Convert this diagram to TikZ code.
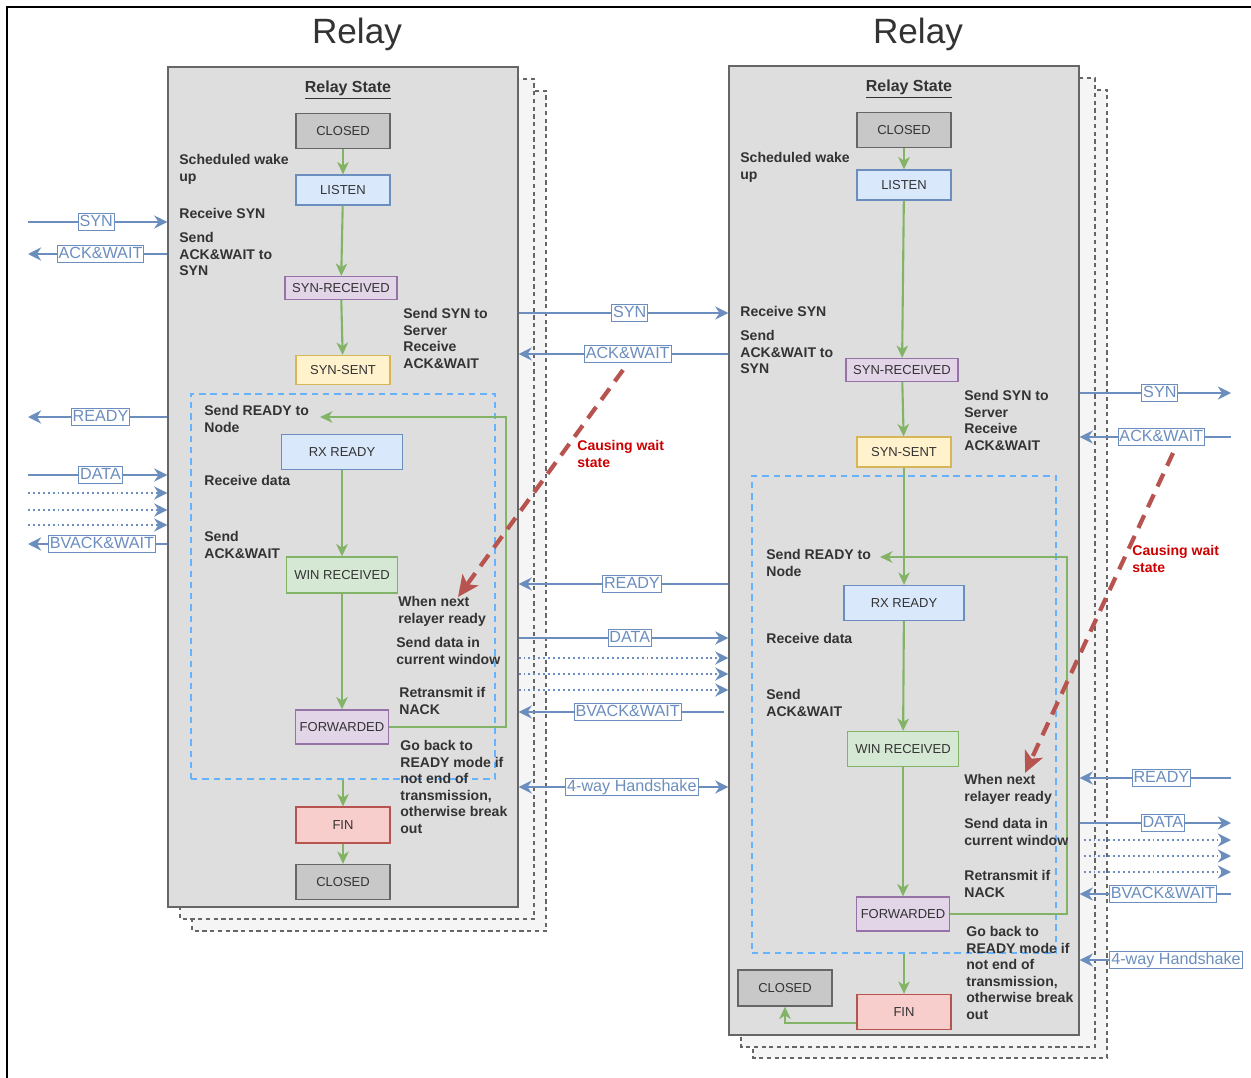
\documentclass[tikz,border=0pt]{standalone}
\usepackage{fontspec}
\setmainfont{Liberation Sans}
\usetikzlibrary{arrows.meta}

\definecolor{bluestroke}{HTML}{6C8EBF}
\definecolor{bluefill}{HTML}{DAE8FC}
\definecolor{greenstroke}{HTML}{82B366}
\definecolor{greenfill}{HTML}{D5E8D4}
\definecolor{purplestroke}{HTML}{9673A6}
\definecolor{purplefill}{HTML}{E1D5E7}
\definecolor{yellowstroke}{HTML}{D6B656}
\definecolor{yellowfill}{HTML}{FFF2CC}
\definecolor{redstroke}{HTML}{B85450}
\definecolor{redfill}{HTML}{F8CECC}
\definecolor{grayfill}{HTML}{C8C8C8}
\definecolor{panel}{HTML}{DEDEDE}
\definecolor{panelback}{HTML}{F5F5F5}
\definecolor{edge}{HTML}{666666}
\definecolor{ink}{HTML}{333333}
\definecolor{dashblue}{HTML}{66B2FF}
\definecolor{warn}{HTML}{CC0000}

\tikzset{
  st/.style 2 args={draw=#1, fill=#2, line width=0.75pt, inner sep=0pt, text=ink,
    font=\fontsize{7.4}{9}\selectfont},
  panelbox/.style={draw=edge, fill=panel, line width=0.75pt, inner sep=0pt,
    minimum width=7cm},
  backbox/.style={draw=edge, fill=panelback, line width=0.6pt, dash pattern=on 2.4pt off 2pt},
  loopbox/.style={draw=dashblue, line width=1.2pt, dash pattern=on 3.6pt off 2.8pt,
    inner sep=0pt},
  note/.style={anchor=north west, align=left, inner sep=0pt, text=ink,
    font=\bfseries\fontsize{8}{9.4}\selectfont},
  warnnote/.style={note, text=warn},
  title/.style={text=ink, font=\fontsize{20}{24}\selectfont, inner sep=0pt},
  statehead/.style={text=ink, font=\bfseries\fontsize{9.1}{11}\selectfont, inner sep=0pt},
  lbl/.style={draw=bluestroke, fill=white, text=bluestroke, line width=0.5pt,
    inner xsep=0.8pt, inner ysep=0.6pt, text height=7pt, text depth=1.9pt,
    font=\fontsize{9.2}{11}\selectfont},
  flow/.style={draw=bluestroke, line width=1.2pt,
    -{Stealth[length=7.5pt,width=7.5pt,inset=2.4pt]}},
  dots/.style={flow, dash pattern=on 1.1pt off 1.7pt},
  both/.style={draw=bluestroke, line width=1.2pt,
    {Stealth[length=7.5pt,width=7.5pt,inset=2.4pt]}-{Stealth[length=7.5pt,width=7.5pt,inset=2.4pt]}},
  trans/.style={draw=greenstroke, line width=1.2pt,
    -{Stealth[length=7pt,width=6.5pt,inset=2pt]}},
  waitline/.style={draw=redstroke, line width=2.4pt, dash pattern=on 8pt off 5pt,
    -{Stealth[length=12pt,width=11pt,inset=3pt]}}
}

\begin{document}
\begin{tikzpicture}[x=0.02cm, y=-0.02cm]
\useasboundingbox (0,0) rectangle (1251,1078);

% outer frame
\draw[line width=0.8pt] (7,1078) -- (7,7) -- (1251,7);

% ---------------- left relay ----------------
\node[title] (T1) at (357,34) {Relay};
\draw[backbox] (192,91) rectangle (546,931);
\draw[backbox] (180,79) rectangle (534,919);
\node[panelbox, minimum height=16.8cm] (R1) at (343,487) {};
\node[statehead] (H1) at (348,90) {\underline{Relay State}};

\node[st={edge}{grayfill}, minimum width=1.88cm, minimum height=0.70cm] (C1) at (343,131) {CLOSED};
\node[st={bluestroke}{bluefill}, minimum width=1.88cm, minimum height=0.60cm] (L1) at (343,190) {LISTEN};
\node[st={purplestroke}{purplefill}, minimum width=2.24cm, minimum height=0.46cm] (SR1) at (341,288) {SYN-RECEIVED};
\node[st={yellowstroke}{yellowfill}, minimum width=1.88cm, minimum height=0.58cm] (SS1) at (343,370) {SYN-SENT};
\node[loopbox, minimum width=6.08cm, minimum height=7.70cm] (LP1) at (343,586.5) {};
\node[st={bluestroke}{bluefill}, minimum width=2.42cm, minimum height=0.70cm] (RX1) at (342,452) {RX READY};
\node[st={greenstroke}{greenfill}, minimum width=2.22cm, minimum height=0.72cm] (W1) at (342,575) {WIN RECEIVED};
\node[st={purplestroke}{purplefill}, minimum width=1.86cm, minimum height=0.68cm] (F1) at (342,727) {FORWARDED};
\node[st={redstroke}{redfill}, minimum width=1.88cm, minimum height=0.72cm] (FIN1) at (343,825) {FIN};
\node[st={edge}{grayfill}, minimum width=1.88cm, minimum height=0.70cm] (CE1) at (343,882) {CLOSED};

\draw[trans] (C1) -- (L1);
\draw[trans] (L1) -- (SR1);
\draw[trans] (SR1) -- (SS1);
\draw[trans] (RX1) -- (W1);
\draw[trans] (W1) -- (F1);
\coordinate (turn1) at (506,417);
\coordinate (back1) at (320,417);
\draw[trans] (F1.east) -| (turn1) -- (back1);
\draw[trans] (FIN1.north |- LP1.south) -- (FIN1.north);
\draw[trans] (FIN1) -- (CE1);

\node[note] (n1a) at (179,154) {Scheduled wake\\up};
\node[note] (n1b) at (179,208) {Receive SYN};
\node[note] (n1c) at (179,232) {Send\\ACK\&WAIT to\\SYN};
\node[note] (n1d) at (403,308) {Send SYN to\\Server\\Receive\\ACK\&WAIT};
\node[note] (n1e) at (204,405) {Send READY to\\Node};
\node[note] (n1f) at (204,475) {Receive data};
\node[note] (n1g) at (204,531) {Send\\ACK\&WAIT};
\node[note] (n1h) at (398,596) {When next\\relayer ready};
\node[note] (n1i) at (396,637) {Send data in\\current window};
\node[note] (n1j) at (399,687) {Retransmit if\\NACK};
\node[note] (n1k) at (400,740) {Go back to\\READY mode if\\not end of\\transmission,\\otherwise break\\out};

% ---------------- right relay ----------------
\node[title] (T2) at (918,34) {Relay};
\draw[backbox] (753,90) rectangle (1107,1058);
\draw[backbox] (741,78) rectangle (1095,1047);
\node[panelbox, minimum height=19.38cm] (R2) at (904,550.5) {};
\node[statehead] (H2) at (909,89) {\underline{Relay State}};

\node[st={edge}{grayfill}, minimum width=1.88cm, minimum height=0.70cm] (C2) at (904,130) {CLOSED};
\node[st={bluestroke}{bluefill}, minimum width=1.88cm, minimum height=0.60cm] (L2) at (904,185) {LISTEN};
\node[st={purplestroke}{purplefill}, minimum width=2.24cm, minimum height=0.46cm] (SR2) at (902,370) {SYN-RECEIVED};
\node[st={yellowstroke}{yellowfill}, minimum width=1.88cm, minimum height=0.60cm] (SS2) at (904,452) {SYN-SENT};
\node[loopbox, minimum width=6.08cm, minimum height=9.54cm] (LP2) at (904,714.5) {};
\node[st={bluestroke}{bluefill}, minimum width=2.40cm, minimum height=0.70cm] (RX2) at (904,603) {RX READY};
\node[st={greenstroke}{greenfill}, minimum width=2.22cm, minimum height=0.70cm] (W2) at (903,749) {WIN RECEIVED};
\node[st={purplestroke}{purplefill}, minimum width=1.86cm, minimum height=0.68cm] (F2) at (903,914) {FORWARDED};
\node[st={redstroke}{redfill}, minimum width=1.88cm, minimum height=0.70cm] (FIN2) at (904,1012) {FIN};
\node[st={edge}{grayfill}, minimum width=1.88cm, minimum height=0.72cm] (CE2) at (785,988) {CLOSED};

\draw[trans] (C2) -- (L2);
\draw[trans] (L2) -- (SR2);
\draw[trans] (SR2) -- (SS2);
\draw[trans] (SS2) -- (RX2);
\draw[trans] (RX2) -- (W2);
\draw[trans] (W2) -- (F2);
\coordinate (turn2) at (1067,557);
\coordinate (back2) at (880,557);
\draw[trans] (F2.east) -| (turn2) -- (back2);
\draw[trans] (FIN2.north |- LP2.south) -- (FIN2.north);
\draw[trans] ([yshift=-6.3pt]FIN2.west) -| (CE2.south);

\node[note] (n2a) at (740,152) {Scheduled wake\\up};
\node[note] (n2b) at (740,306) {Receive SYN};
\node[note] (n2c) at (740,330) {Send\\ACK\&WAIT to\\SYN};
\node[note] (n2d) at (964,390) {Send SYN to\\Server\\Receive\\ACK\&WAIT};
\node[note] (n2e) at (766,549) {Send READY to\\Node};
\node[note] (n2f) at (766,633) {Receive data};
\node[note] (n2g) at (766,689) {Send\\ACK\&WAIT};
\node[note] (n2h) at (964,774) {When next\\relayer ready};
\node[note] (n2i) at (964,818) {Send data in\\current window};
\node[note] (n2j) at (964,870) {Retransmit if\\NACK};
\node[note] (n2k) at (966,926) {Go back to\\READY mode if\\not end of\\transmission,\\otherwise break\\out};

% ---------------- messages to the left of the first relay ----------------
\coordinate (a1) at (28,222);
\coordinate (a2) at (28,254);
\coordinate (a3) at (28,417);
\coordinate (a4) at (28,475);
\coordinate (a5) at (28,493);
\coordinate (a6) at (28,510);
\coordinate (a7) at (28,525);
\coordinate (a8) at (28,544);
\draw[flow] (a1) -- node[lbl, pos=0.49] {SYN} (a1 -| R1.west);
\draw[flow] (a2 -| R1.west) -- node[lbl, pos=0.48] {ACK\&WAIT} (a2);
\draw[flow] (a3 -| R1.west) -- node[lbl, pos=0.48] {READY} (a3);
\draw[flow] (a4) -- node[lbl, pos=0.52] {DATA} (a4 -| R1.west);
\draw[dots] (a5) -- (a5 -| R1.west);
\draw[dots] (a6) -- (a6 -| R1.west);
\draw[dots] (a7) -- (a7 -| R1.west);
\draw[flow] (a8 -| R1.west) -- node[lbl, pos=0.47] {BVACK\&WAIT} (a8);

% ---------------- messages between the relays ----------------
\coordinate (m1) at (620,313);
\coordinate (m2) at (620,354);
\coordinate (m3) at (620,584);
\coordinate (m4) at (620,638);
\coordinate (m5) at (620,658);
\coordinate (m6) at (620,674);
\coordinate (m7) at (620,690);
\coordinate (m8) at (620,712);
\coordinate (m9) at (620,787);
\draw[flow] (m1 -| R1.east) -- node[lbl, pos=0.53] {SYN} (m1 -| R2.west);
\draw[flow] (m2 -| R2.west) -- node[lbl, pos=0.48] (mack) {ACK\&WAIT} (m2 -| R1.east);
\draw[flow] (m3 -| R2.west) -- node[lbl, pos=0.46] {READY} (m3 -| R1.east);
\draw[flow] (m4 -| R1.east) -- node[lbl, pos=0.53] {DATA} (m4 -| R2.west);
\draw[dots] (m5 -| R1.east) -- (m5 -| R2.west);
\draw[dots] (m6 -| R1.east) -- (m6 -| R2.west);
\draw[dots] (m7 -| R1.east) -- (m7 -| R2.west);
\draw[flow] ([xshift=-2.3pt]m8 -| R2.west) -- node[lbl, pos=0.47] {BVACK\&WAIT} (m8 -| R1.east);
\draw[both] (m9 -| R1.east) -- node[lbl, pos=0.54] {4-way Handshake} (m9 -| R2.west);

% ---------------- messages to the right of the second relay ----------------
\coordinate (b1) at (1231,393);
\coordinate (b2) at (1231,437);
\coordinate (b3) at (1231,778);
\coordinate (b4) at (1231,823);
\coordinate (b5) at (1231,840);
\coordinate (b6) at (1231,856);
\coordinate (b7) at (1231,872);
\coordinate (b8) at (1231,894);
\draw[flow] (b1 -| R2.east) -- node[lbl, pos=0.53] {SYN} (b1);
\draw[flow] (b2) -- node[lbl, pos=0.46] {ACK\&WAIT} (b2 -| R2.east);
\draw[flow] (b3) -- node[lbl, pos=0.46] {READY} (b3 -| R2.east);
\draw[flow] (b4 -| R2.east) -- node[lbl, pos=0.55] {DATA} (b4);
\draw[dots] ([xshift=2.3pt]b5 -| R2.east) -- (b5);
\draw[dots] ([xshift=2.3pt]b6 -| R2.east) -- (b6);
\draw[dots] ([xshift=2.3pt]b7 -| R2.east) -- (b7);
\draw[flow] (b8) -- node[lbl, pos=0.45] {BVACK\&WAIT} (b8 -| R2.east);
\node[lbl] (hs2) at (1176,960) {4-way Handshake};
\draw[flow] (hs2) -- (hs2 -| R2.east);

% ---------------- wait-state hints ----------------
\coordinate (w1s) at (623,370);
\coordinate (w1e) at (458,597);
\draw[waitline] (w1s) -- (w1e);
\node[warnnote] (c1) at (577,440) {Causing wait\\state};
\coordinate (w2s) at (1173,453);
\coordinate (w2e) at (1025,773);
\draw[waitline] (w2s) -- (w2e);
\node[warnnote] (c2) at (1132,545) {Causing wait\\state};

\end{tikzpicture}
\end{document}
